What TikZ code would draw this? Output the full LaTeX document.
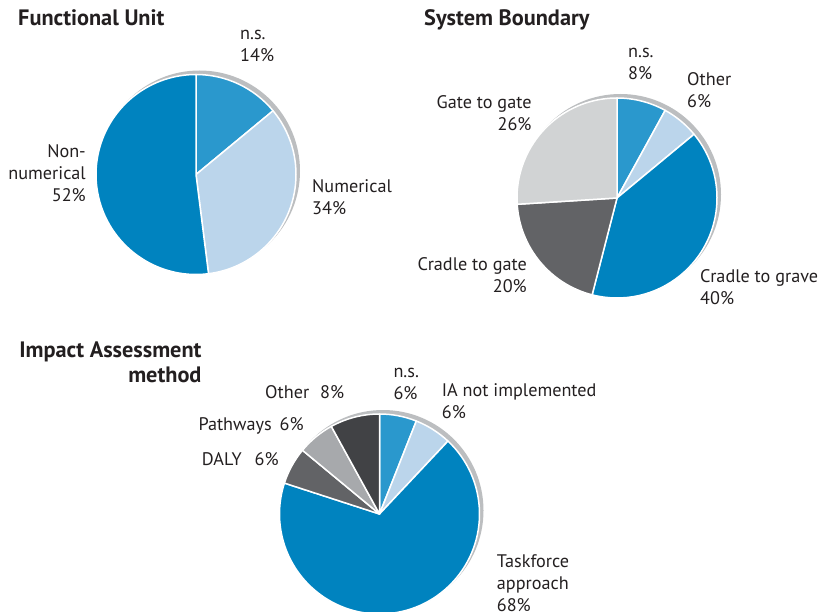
\documentclass[tikz,border=0pt]{standalone}
\usepackage{fontspec}
\setmainfont{PT Sans}
\usepackage{tikz}
\usetikzlibrary{positioning}
\definecolor{darkblue}{HTML}{0083BF}
\definecolor{midblue}{HTML}{2A98CD}
\definecolor{lightblue}{HTML}{BBD5EB}
\definecolor{lightgray}{HTML}{D1D3D4}
\definecolor{midgray}{HTML}{A7A9AC}
\definecolor{darkgray}{HTML}{626366}
\definecolor{deepgray}{HTML}{414245}
\definecolor{shadowgray}{HTML}{BCBEC0}
\definecolor{txt}{HTML}{231F20}
\begin{document}
\begin{tikzpicture}[
	  x=1pt,y=1pt,
	  lbl/.style={font=\fontsize{18.2}{22}\selectfont,text=txt,inner sep=0pt},
	  ttl/.style={font=\fontsize{22.3}{25}\selectfont\bfseries,text=txt,inner sep=0pt},
	  slice/.style={draw=white,line width=1.5pt,line join=round},
	  shade/.style={fill=shadowgray}
	]
		\clip (0,0) rectangle (821,-612);
		\coordinate (c1) at (196,-174.5);
		\coordinate (c2) at (617,-198);
		\coordinate (c3) at (379.5,-514);
		% shadows
		\foreach \c in {c1,c2,c3} {\fill[shade] ([shift={(3.5,3.5)}]\c) circle[radius=100.5];}
		% Functional Unit
		\foreach \a/\b/\col in {90/39.6/midblue,39.6/-82.8/lightblue,-82.8/-270/darkblue}
			{\draw[slice,fill=\col] (c1) -- ++(\a:100) arc[start angle=\a,end angle=\b,radius=100] -- cycle;}
		% System Boundary
		\foreach \a/\b/\col in {90/61.2/midblue,61.2/39.6/lightblue,39.6/-104.4/darkblue,-104.4/-176.4/darkgray,-176.4/-270/lightgray}
			{\draw[slice,fill=\col] (c2) -- ++(\a:100) arc[start angle=\a,end angle=\b,radius=100] -- cycle;}
		% Impact Assessment method
		\foreach \a/\b/\col in {90/68.4/midblue,68.4/46.8/lightblue,46.8/-198/darkblue,-198/-219.6/darkgray,-219.6/-241.2/midgray,-241.2/-270/deepgray}
			{\draw[slice,fill=\col] (c3) -- ++(\a:100) arc[start angle=\a,end angle=\b,radius=100] -- cycle;}
		% titles
		\node[ttl,anchor=base west] (fu) at (18,-26) {Functional Unit};
		\node[ttl,anchor=base west] (sb) at (424,-26) {System Boundary};
		\node[ttl,anchor=base east,align=right] (ia) at (201.7,-382.3) {Impact Assessment\\method};
		% labels (base = last line)
		\node[lbl,anchor=base west,align=left] (ns1) at (240,-61.5) {n.s.\\14\%};
		\node[lbl,anchor=base west,align=left] (num1) at (312,-215) {Numerical\\34\%};
		\node[lbl,anchor=base east,align=right] (non1) at (86,-201.7) {Non-\\numerical\\52\%};
		\node[lbl,anchor=base west,align=left] (ns2) at (628,-79.5) {n.s.\\8\%};
		\node[lbl,anchor=base west,align=left] (oth2) at (687,-107.5) {Other\\6\%};
		\node[lbl,anchor=base east,align=right] (gate) at (531.7,-130.5) {Gate to gate\\26\%};
		\node[lbl,anchor=base east,align=right] (crgate) at (527,-292.7) {Cradle to gate\\20\%};
		\node[lbl,anchor=base west,align=left] (crgrave) at (700,-304.5) {Cradle to grave\\40\%};
		\node[lbl,anchor=base west,align=left] (ns3) at (393.3,-399.8) {n.s.\\6\%};
		\node[lbl,anchor=base west,align=left] (noia) at (441.7,-418.5) {IA not implemented\\6\%};
		\node[lbl,anchor=base west] (oth3) at (265,-398.3) {Other\hspace{11pt}8\%};
		\node[lbl,anchor=base west] (path) at (198.3,-430.7) {Pathways\hspace{8pt}6\%};
		\node[lbl,anchor=base west] (daly) at (201.7,-465) {DALY\hspace{13pt}6\%};
		\node[lbl,anchor=base west,align=left] (task) at (496.7,-611.5) {Taskforce\\approach\\68\%};
	\end{tikzpicture}
\end{document}
